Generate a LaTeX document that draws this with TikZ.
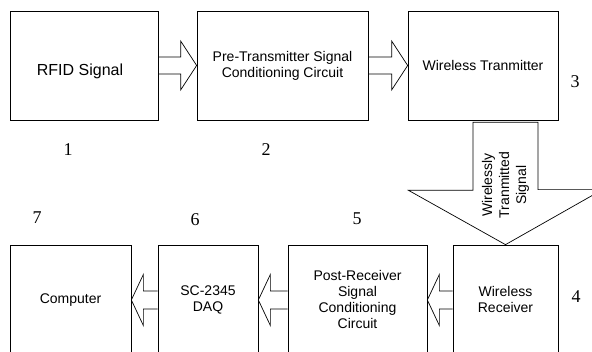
\documentclass[tikz,border=0pt]{standalone}
\usepackage{fontspec}
\setmainfont{Liberation Sans}
\newfontfamily\numfont{Liberation Serif}
\usetikzlibrary{calc}

\begin{document}
\begin{tikzpicture}[x=1pt,y=1pt,line width=0.7pt,
		box/.style={draw,inner sep=0pt,align=center,font=\fontsize{14}{16}\selectfont},
		num/.style={font=\numfont\fontsize{18}{18}\selectfont}]
	\clip (0,0) rectangle (592,352);
	\node[box,minimum width=148,minimum height=109,label={[font=\fontsize{16}{18}\selectfont,yshift=-6,xshift=-4]center:RFID Signal}] (N1) at (84,286.5) {};
	\node[box,minimum width=171,minimum height=109] (N2) at (282.5,286.5) {Pre-Transmitter Signal\\Conditioning Circuit};
	\node[box,minimum width=150,minimum height=109] (N3) at (483,286.5) {Wireless Tranmitter};
	\node[box,minimum width=105,minimum height=110] (N4) at (505.5,52) {Wireless\\Receiver};
	\node[box,minimum width=139,minimum height=110] (N5) at (357.5,52) {Post-Receiver\\Signal\\Conditioning\\Circuit};
	\node[box,minimum width=100,minimum height=110] (N6) at (208,52) {SC-2345\\DAQ};
	\node[box,minimum width=121,minimum height=110] (N7) at (70.5,52) {Computer};

	\foreach \a/\b in {N1/N2,N2/N3}
		\draw ([yshift=8.5]\a.east) -- ($(\b.west)+(-16,8.5)$) -- ++(0,16) -- (\b.west) -- ++(-16,-24.5) -- ++(0,16) -- ([yshift=-8.5]\a.east);
	\foreach \a/\b in {N4/N5,N5/N6,N6/N7}
		\draw ([yshift=9]\a.west) -- ($(\b.east)+(12,9)$) -- ++(0,16.5) -- (\b.east) -- ++(12,-25.5) -- ++(0,16.5) -- ([yshift=-9]\a.west);

	\draw ([shift={(-10,-2)}]N3.south) -- ++(0,-68) -- ++(-64.5,0) -- (N4.north) -- ++(97,55) -- ++(-64.5,0) -- ([shift={(55,-2)}]N3.south) -- cycle;
	\node[rotate=90,align=center,font=\fontsize{14}{17}\selectfont] (T) at (505.5,167) {Wirelessly\\Tranmitted\\Signal};

	\foreach \n/\x/\y in {1/68/202,2/266/202,3/575/270,4/576/55,5/357/133,6/195/132,7/37/134}
		\node[num] (L\n) at (\x,\y) {\n};
\end{tikzpicture}
\end{document}
